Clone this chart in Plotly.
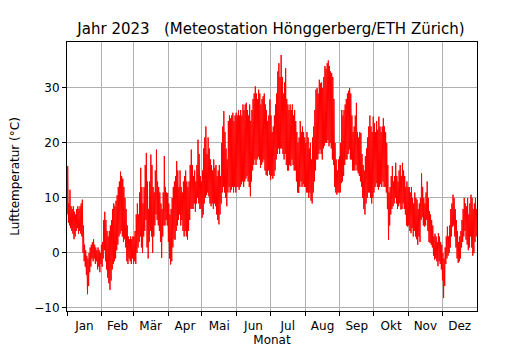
import plotly.graph_objects as go

title_text = "Jahr 2023   (Meteostation Hönggerberg/ETH Zürich)"
x_title = "Monat"
y_title = "Lufttemperatur (°C)"
month_labels = ["Jan", "Feb", "Mär", "Apr", "Mai", "Jun", "Jul", "Aug", "Sep", "Okt", "Nov", "Dez"]
days_in_month = [31, 28, 31, 30, 31, 30, 31, 31, 30, 31, 30, 31]
y_ticks = [-10, 0, 10, 20, 30]

# daily maximum / minimum temperatures (°C)
tmax_jan = [15.8, 9, 11.5, 8.5, 8, 8.5, 7.5, 7, 8, 8.5, 8, 8.5, 9, 9.7, 5, 1.5, 0.5, -0.5, -1, 0,
            1, 1.5, 2, 2.5, 1.5, 1, 0.5, 1, 0.5, 0, 1.5]
tmin_jan = [7, 5.5, 5, 4.5, 4, 3.5, 2.5, 3, 4, 4.5, 3.5, 4, 3.5, 3, 0, -1.5, -2.5, -4, -7.5, -6,
            -3.5, -2.5, -1, -1.5, -1, -2, -1.5, -3, -2.5, -3.5, -2]
tmax_feb = [2, 6, 7.5, 6, 4, 3, 4, 5, 6, 8, 9, 8.5, 9.5, 10.5, 12, 13, 14.8, 14, 13.5, 12,
            10, 8, 5, 3, 2.5, 3, 2.5, 3]
tmin_feb = [-2.5, -1, 0.5, -1.5, -3, -4.5, -5.5, -6.7, -5, -3, -2, -1.5, -1, 0.5, 1.5, 3, 3.5, 4, 3, 2,
            2.5, 1, -1.5, -2, -1, -1.5, -2, -1]
tmax_mar = [3, 4, 7, 9, 7, 11, 15.5, 12, 9, 12, 16, 18.2, 13, 8, 13, 17.9, 16, 12, 11, 15,
            18.8, 13, 12, 11, 9, 8, 11, 17.6, 12, 11, 10.9]
tmin_mar = [-2, -1.5, -2, 0, 1, 2, 3, 1, 0, 3, 4, 6, 1, -1, 2, 4, 3, 0, 3, 5,
            7, 6, 5, 4, 2, -0.9, 3, 5, 5, 6, 5]
tmax_apr = [9, 7, 8, 10, 12, 13, 14, 16.7, 15, 12, 15, 12, 11, 13, 14, 15, 13, 12, 13, 16,
            18.8, 16, 14, 15, 13, 16, 20.6, 18, 14, 13]
tmin_apr = [2, -1, -2.1, -1.5, 1, 2.5, 2.4, 4, 5, 6, 7, 5, 6, 4, 3, 4, 3, 2.4, 4, 6,
            8, 8, 8, 9, 7.5, 9, 10, 9, 8, 8]
tmax_may = [15, 19, 21, 23, 18, 21, 19, 17, 16, 15, 17, 15.5, 16, 14, 15, 16, 14, 20, 23, 25.8,
            22, 19, 17, 24, 25, 24.5, 25, 25.5, 24, 25, 25.5]
tmin_may = [6.4, 7, 9, 10, 10.5, 11, 10.3, 9, 8.5, 9, 8, 9, 8.5, 7, 6, 5.2, 7, 9, 11, 12,
            11, 10, 8.5, 11, 12, 11, 11.5, 12, 11, 12, 11]
tmax_jun = [25, 26, 25, 26, 25, 27, 26, 27, 27.3, 26, 25, 27, 24, 26, 28, 29, 30.3, 29, 28, 29.7,
            29, 27, 28, 28.5, 29, 27, 26, 24, 25, 27.9]
tmin_jun = [12, 12, 11.5, 12, 12.5, 13, 12, 13, 13.5, 14, 13, 12, 10.3, 13, 15, 16, 17, 16, 17, 17.5,
            17, 15.5, 16, 16.5, 17, 15, 14.2, 14, 15, 14.2]
tmax_jul = [25, 22, 23, 25, 27, 29, 33, 34.5, 32, 36, 32, 29, 31, 33.6, 28, 27, 26, 27, 26, 27,
            25, 26, 24, 22, 20, 21, 24, 22, 23, 22, 21]
tmin_jul = [13.3, 14, 13.5, 14, 15, 17, 18, 19, 18, 19, 19, 18, 17, 18, 16, 15, 15, 16, 15.8, 17,
            16, 15, 15, 13, 11, 10.9, 12, 13, 12, 12.5, 12]
tmax_aug = [20, 22, 21, 19, 20, 17, 21, 23, 26, 29.7, 30, 29, 31.5, 30.9, 31, 30, 32, 34, 33.5, 34.5,
            35, 34, 33, 32.7, 32, 28, 20, 17, 15, 17, 17.6]
tmin_aug = [12, 11, 11, 10, 11, 9.5, 9, 11, 13, 15, 17, 17, 18, 18.8, 18, 17, 19, 19.5, 20, 20,
            20.5, 19.4, 20, 19, 17, 16, 12, 11, 10.6, 11, 11]
tmax_sep = [20, 26, 25, 26, 27, 28, 29, 29.5, 30, 29, 25, 22, 23, 25, 27.3, 22, 21, 22, 21.8, 18,
            16, 15, 17.6, 19, 21, 23, 25, 23, 22, 24.8]
tmin_sep = [11, 12.7, 13, 14, 16, 17, 17, 18, 18.8, 17, 17, 15, 15, 15, 16, 15, 14.5, 14, 13, 12,
            10, 8, 7, 9, 10, 11, 11, 10, 9, 10]
tmax_oct = [23.6, 22, 24, 22.4, 24.8, 23, 22, 23, 24.5, 23, 22, 20, 16, 11, 12, 14, 15.8, 13, 14, 16.4,
            14, 13, 15, 16, 14, 16.4, 15, 14, 12, 13, 12]
tmin_oct = [11, 12, 12.7, 12, 11.5, 12, 12.5, 12, 13, 12, 12, 11, 8, 2.4, 5, 7, 8, 8.5, 9, 10,
            9, 8, 8.5, 9, 7.9, 8, 9, 8, 7, 5, 4.8]
tmax_nov = [12, 11, 12, 10, 9, 11, 10, 9.7, 8, 9, 10, 14.5, 12, 10, 9, 11, 13, 10, 7.6, 7,
            6, 5, 3, 3.5, 3, 2, 3.6, 3, 2, 1.5]
tmin_nov = [5, 4, 3.6, 4.5, 3, 4, 3, 2.5, 1.5, 3, 2, 6, 6.5, 5, 4.8, 5, 6, 4, 2, 1.8,
            1.5, 1, -0.5, -1.2, -1, -1.5, -2.4, -1.5, -2, -3]
tmax_dec = [0, -1, 1, 3, 4.8, 3, 5, 8, 9, 10.6, 10, 8, 6, 4, 2, 3, 4, 6, 8, 10,
            9, 8.5, 10, 7, 9, 10.6, 10, 8, 9, 10, 8]
tmin_dec = [-5, -8.2, -6, -2, -1, -0.5, 0, 1, 3, 4.8, 5, 3, 1, -1, -1.8, -1.5, -1, 1, 2, 3,
            4, 2.4, 1.5, 0.5, 1, 3, 1, -0.5, 0, 2, 3]

tmax = [tmax_jan, tmax_feb, tmax_mar, tmax_apr, tmax_may, tmax_jun,
        tmax_jul, tmax_aug, tmax_sep, tmax_oct, tmax_nov, tmax_dec]
tmin = [tmin_jan, tmin_feb, tmin_mar, tmin_apr, tmin_may, tmin_jun,
        tmin_jul, tmin_aug, tmin_sep, tmin_oct, tmin_nov, tmin_dec]

# day-of-year positions of month starts and month centres
month_start = []
acc = 0
for n in days_in_month:
    month_start.append(acc)
    acc += n
year_len = acc
month_mid = [s + n / 2 for s, n in zip(month_start, days_in_month)]

# time series: morning minimum, afternoon maximum for every day
xs, ys = [], []
for m in range(12):
    for i, (lo, hi) in enumerate(zip(tmin[m], tmax[m])):
        d = month_start[m] + i
        xs += [d + 0.27, d + 0.63]
        ys += [lo, hi]

fig = go.Figure()
fig.add_trace(go.Scatter(x=xs, y=ys, mode="lines",
                         line=dict(color="red", width=1), hoverinfo="skip"))

# the page body has an 8 px margin, so the figure is 8 px smaller than the window
W, H = 522, 342
fig.update_layout(
    width=W, height=H,
    margin=dict(l=59, r=53, t=34, b=39, autoexpand=False),
    paper_bgcolor="white", plot_bgcolor="white",
    font=dict(family="DejaVu Sans", size=12, color="black"),
    showlegend=False,
    title=dict(text=title_text, x=(271 - 8) / W, xanchor="center",
               y=1 - 21 / H, yanchor="middle", yref="container",
               font=dict(size=15, color="black")),
    xaxis=dict(
        range=[0, year_len], automargin=False,
        tickmode="array", tickvals=month_mid, ticktext=month_labels,
        ticks="outside", ticklen=4, tickcolor="rgba(0,0,0,0)",
        showgrid=False, zeroline=False,
        showline=True, mirror=True, linecolor="black", linewidth=1,
        minor=dict(tickmode="array", tickvals=month_start, ticks="outside",
                   ticklen=4, tickwidth=1, tickcolor="black",
                   showgrid=True, gridcolor="#b0b0b0", gridwidth=0.8),
        title=dict(text=x_title, standoff=2, font=dict(size=12)),
    ),
    yaxis=dict(
        range=[-10.55, 38.36], automargin=False,
        tickmode="array", tickvals=y_ticks,
        ticks="outside", ticklen=4, tickwidth=1, tickcolor="black",
        showgrid=True, gridcolor="#b0b0b0", gridwidth=0.8,
        zeroline=False,
        showline=True, mirror=True, linecolor="black", linewidth=1,
        title=dict(text=y_title, standoff=12, font=dict(size=12)),
    ),
)

fig.write_html("out.html")
